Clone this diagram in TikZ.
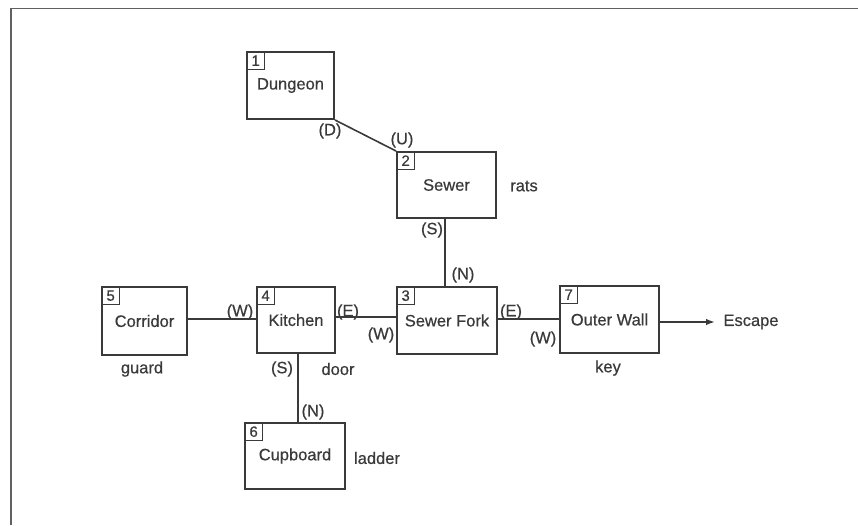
\documentclass[tikz,border=0pt]{standalone}
\usepackage{fontspec}
\setmainfont[FakeBold=0.5]{Liberation Sans}
\usetikzlibrary{arrows.meta}
\definecolor{ink}{HTML}{3A3A3A}
\tikzset{
  room/.style={draw=ink, line width=2pt, rectangle, inner sep=0pt, text=ink,
    font=\fontsize{16.5}{19}\selectfont},
  numbox/.style={draw=ink, line width=1.3pt, rectangle, inner sep=0pt, anchor=north west,
    minimum width=18pt, minimum height=18pt, text=ink, font=\fontsize{15}{16}\selectfont},
  lbl/.style={text=ink, inner sep=0pt, font=\fontsize{16.5}{19}\selectfont},
  conn/.style={draw=ink, line width=1.6pt},
}
\begin{document}
\begin{tikzpicture}[x=1pt,y=-1pt]
\useasboundingbox (0,0) rectangle (858,525);
\fill[white] (0,0) rectangle (858,525);
% frame
\draw[draw=ink!80, line width=1.4pt] (11,525) -- (11,8.5) -- (858,8.5);

% rooms
\node[room, minimum width=87pt, minimum height=67pt] (dun) at (290.5,85.5) {Dungeon};
\node[room, minimum width=99pt, minimum height=66pt] (sew) at (446.5,185) {Sewer};
\node[room, minimum width=100pt, minimum height=67pt] (fork) at (447,320.5) {Sewer Fork};
\node[room, minimum width=78pt, minimum height=66pt] (kit) at (296,320) {Kitchen};
\node[room, minimum width=85pt, minimum height=68pt] (cor) at (144.5,321) {Corridor};
\node[room, minimum width=100pt, minimum height=66pt] (cup) at (295,456) {Cupboard};
\node[room, minimum width=99pt, minimum height=67pt] (out) at (609.5,319.5) {Outer Wall};

% number boxes
\node[numbox] (n1) at (dun.north west) {1};
\node[numbox] (n2) at (sew.north west) {2};
\node[numbox] (n3) at (fork.north west) {3};
\node[numbox] (n4) at (kit.north west) {4};
\node[numbox] (n5) at (cor.north west) {5};
\node[numbox] (n6) at (cup.north west) {6};
\node[numbox] (n7) at (out.north west) {7};

% connectors
\draw[conn] (dun.south east) -- (sew.north west);
\draw[conn] ([xshift=-1.5pt]sew.south) -- ([xshift=-1.5pt]sew.south |- fork.north);
\draw[conn] ([yshift=2pt]cor.east) -- ([yshift=2pt]cor.east -| kit.west);
\draw[conn] ([yshift=3pt]kit.east) -- ([yshift=3pt]kit.east -| fork.west);
\draw[conn] ([yshift=1.5pt]fork.east) -- ([yshift=1.5pt]fork.east -| out.west);
\draw[conn] ([xshift=2pt]kit.south) -- ([xshift=2pt]kit.south |- cup.north);
\node[lbl] (esc) at (751,322) {Escape};
\coordinate (arrowend) at (715,322);
\draw[conn, -{Latex[length=9pt,width=6.5pt]}] (out.east |- arrowend) -- (arrowend);

% direction labels
\node[lbl] (lD) at (330,131) {(D)};
\node[lbl] (lU) at (402,140) {(U)};
\node[lbl] (lS2) at (432,230) {(S)};
\node[lbl] (lN3) at (463,275) {(N)};
\node[lbl] (lW4) at (240,312) {(W)};
\node[lbl] (lE4) at (348,312) {(E)};
\node[lbl] (lW3) at (381,335) {(W)};
\node[lbl] (lE3) at (511,312) {(E)};
\node[lbl] (lW7) at (543,339) {(W)};
\node[lbl] (lS4) at (282,369) {(S)};
\node[lbl] (lN6) at (313,412) {(N)};

% items
\node[lbl] (rats) at (524,186) {rats};
\node[lbl] (guard) at (142,369) {guard};
\node[lbl] (door) at (338,369) {door};
\node[lbl] (key) at (608,368) {key};
\node[lbl] (ladder) at (377,458) {ladder};
\end{tikzpicture}
\end{document}
